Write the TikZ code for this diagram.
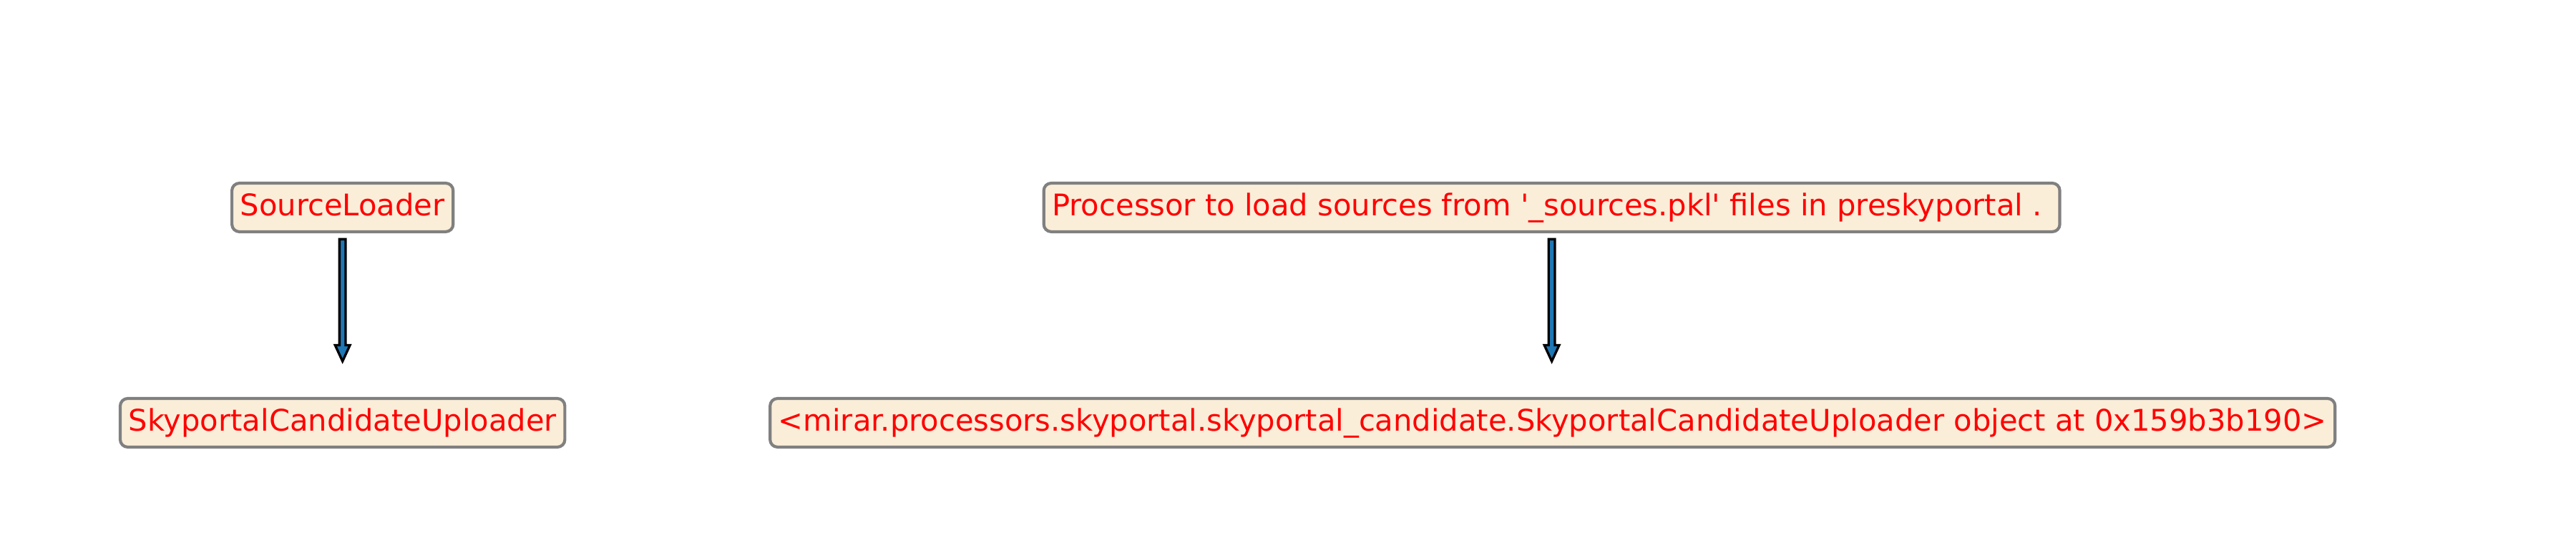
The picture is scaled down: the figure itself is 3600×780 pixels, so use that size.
\documentclass[tikz,border=0pt]{standalone}
\usepackage{fontspec}
\usetikzlibrary{calc}
\newfontfamily\dvfont{DejaVu Sans}
\definecolor{boxfill}{RGB}{250,238,217}
\definecolor{boxedge}{RGB}{128,128,128}
\definecolor{arrowblue}{RGB}{31,119,180}
\tikzset{
  procbox/.style={draw=boxedge, line width=1pt, fill=boxfill, rounded corners=2.5pt,
    text=red, font=\dvfont\fontsize{10pt}{12pt}\selectfont,
    inner xsep=2.8pt, minimum height=16.3pt, text height=7.6pt, text depth=1.9pt},
  fatarrow/.style={draw=black, line width=0.8pt, fill=arrowblue, line join=miter}
}
\newcommand{\fatarrowdraw}[2]{%
  \path let \p1=(#1), \p2=(#2) in
    [fatarrow] (\x1-1.04pt,\y1) -- (\x1+1.04pt,\y1) -- (\x1+1.04pt,\y2+5.4pt)
      -- (\x1+2.5pt,\y2+5.4pt) -- (\x1,\y2) -- (\x1-2.5pt,\y2+5.4pt)
      -- (\x1-1.04pt,\y2+5.4pt) -- cycle;
}
\begin{document}
\begin{tikzpicture}[x=0.24pt,y=-0.24pt]
\useasboundingbox (0,0) rectangle (3600,780);
\node[procbox] (sl) at (478.7,290) {SourceLoader};
\node[procbox] (scu) at (478.7,591) {SkyportalCandidateUploader};
\node[procbox] (desc) at (2168.6,290) {Processor to load sources from '\_sources.pkl' files in preskyportal .\kern3.2pt\relax};
\node[procbox] (obj) at (2169.7,591) {<mirar.processors.skyportal.skyportal\_candidate.SkyportalCandidateUploader object at 0x159b3b190>};
\coordinate (a1s) at ([yshift=-2pt]sl.south);
\coordinate (a1e) at ([yshift=12pt]scu.north);
\coordinate (a2s) at ([yshift=-2pt]desc.south);
\coordinate (a2e) at ([yshift=12pt]obj.north);
\fatarrowdraw{a1s}{a1e}
\fatarrowdraw{a2s}{a2e}
\end{tikzpicture}
\end{document}
